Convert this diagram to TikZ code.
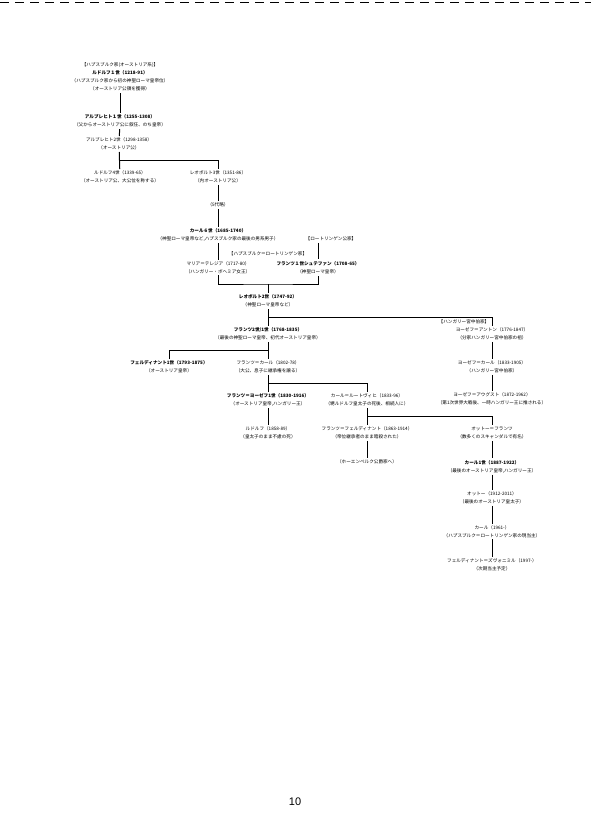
\documentclass[tikz,border=0pt]{standalone}
\usepackage{fontspec}
\newfontfamily\jp{Noto Sans CJK JP}
\newfontfamily\pgnum{Liberation Sans}
\usetikzlibrary{calc}
\tikzset{
  person/.style={align=center, inner sep=1.6pt, font=\jp\fontsize{4.6}{8}\selectfont},
  link/.style={line width=1pt, draw=black},
}
\begin{document}
\begin{tikzpicture}[x=1pt,y=-1pt]
\useasboundingbox (0,0) rectangle (591,835);
\draw[line width=0.9pt, dash pattern=on 9pt off 6pt] (0,2.5) -- (591,2.5);

\node[person] (hab) at (120,65) {【ハプスブルク家(オーストリア系)】};
\node[person] (rud1) at (120,81) {\textbf{ルドルフ１世（1218-91）}\\（ハプスブルク家から初の神聖ローマ皇帝位）\\（オーストリア公領を獲得）};
\node[person] (alb1) at (120,121) {\textbf{アルブレヒト１世（1255-1308）}\\（父からオーストリア公に叙任、のち皇帝）};
\node[person] (alb2) at (119,144) {アルブレヒト2世（1298-1358）\\（オーストリア公）};
\node[person] (rud4) at (120,177) {ルドルフ4世（1339-65）\\（オーストリア公、大公位を称する）};
\node[person] (leo3) at (218,177) {レオポルト3世（1351-86）\\（内オーストリア公）};
\node[person] (skip) at (218,205) {（5代略）};
\node[person] (karl6) at (218,235) {\textbf{カール６世（1685-1740）}\\（神聖ローマ皇帝など,ハプスブルク家の最後の男系男子）};
\node[person] (loth) at (331,239) {【ロートリンゲン公家】};
\node[person] (hl) at (268,254) {【ハプスブルク＝ロートリンゲン家】};
\node[person] (mt) at (218,267.5) {マリア＝テレジア（1717-80）\\（ハンガリー・ボヘミア女王）};
\node[person] (f1) at (318,267.5) {\textbf{フランツ１世シュテファン（1708-65）}\\（神聖ローマ皇帝）};
\node[person] (leo2) at (268,301) {\textbf{レオポルト2世（1747-92）}\\（神聖ローマ皇帝など）};
\node[person] (f2) at (268,334) {\textbf{フランツ2世/1世（1768-1835）}\\（最後の神聖ローマ皇帝、初代オーストリア皇帝）};
\node[person] (fer1) at (169,367) {\textbf{フェルディナント1世（1793-1875）}\\（オーストリア皇帝）};
\node[person] (fk) at (268,367) {フランツ＝カール（1802-78）\\（大公、息子に継承権を譲る）};
\node[person] (fj) at (268,400) {\textbf{フランツ＝ヨーゼフ1世（1830-1916）}\\（オーストリア皇帝,ハンガリー王）};
\node[person] (kl) at (367,400) {カール＝ルートヴィヒ（1833-96）\\（甥ルドルフ皇太子の死後、相続人に）};
\node[person] (rudolf) at (268,433) {ルドルフ（1858-89）\\（皇太子のまま不慮の死）};
\node[person] (ff) at (367,433) {フランツ＝フェルディナント（1863-1914）\\（帝位継承者のまま暗殺された）};
\node[person] (hoh) at (367,462) {（ホーエンベルク公爵家へ）};
\node[person] (hpal) at (464,322) {【ハンガリー宮中伯家】};
\node[person] (ja) at (492,334) {ヨーゼフ＝アントン（1776-1847）\\（分家ハンガリー宮中伯家の祖）};
\node[person] (jk) at (492,367) {ヨーゼフ＝カール（1833-1905）\\（ハンガリー宮中伯家）};
\node[person] (jau) at (492,399) {ヨーゼフ＝アウグスト（1872-1962）\\（第1次世界大戦後、一時ハンガリー王に推される）};
\node[person] (of) at (492,433) {オットー＝フランツ\\（数多くのスキャンダルで有名）};
\node[person] (k1) at (492,466.5) {\textbf{カール1世（1887-1922）}\\（最後のオーストリア皇帝,ハンガリー王）};
\node[person] (ot) at (492,498) {オットー（1912-2011）\\（最後のオーストリア皇太子）};
\node[person] (karl) at (492,531.5) {カール（1961-）\\（ハプスブルク＝ロートリンゲン家の現当主）};
\node[person] (fz) at (492,565) {フェルディナント＝ズヴォニミル（1997-）\\（次期当主予定）};

\node[font=\pgnum\fontsize{11}{13}\selectfont, inner sep=0pt] (pg) at (295,802) {10};

\draw[link] (rud1) -- (alb1);
\draw[link] (alb1) -- (alb2);
\draw[link] (alb2) -- (rud4);
\draw[link] ($(alb2.south)!0.5!(rud4.north)$) -| (leo3.north);
\draw[link] (leo3) -- (skip);
\draw[link] (skip) -- (karl6);
\draw[link] (karl6) -- (mt);
\draw[link] (f1.north |- loth.south) -- (f1.north);
\coordinate (j1) at (268,284);
\draw[link] (mt.south) |- (j1) -| (f1.south);
\draw[link] (j1) -- (leo2.north);
\draw[link] (leo2) -- (f2);
\draw[link] ($(leo2.south)!0.5!(f2.north)$) -| (ja.north);
\draw[link] (f2) -- (fk);
\draw[link] ($(f2.south)!0.5!(fk.north)$) -| (fer1.north);
\draw[link] (fk) -- (fj);
\draw[link] ($(fk.south)!0.5!(fj.north)$) -| (kl.north);
\draw[link] (fj) -- (rudolf);
\draw[link] (kl) -- (ff);
\draw[link] ($(kl.south)!0.5!(ff.north)$) -| (of.north);
\draw[link] (ff) -- (hoh);
\draw[link] (ja) -- (jk);
\draw[link] (jk) -- (jau);
\draw[link] (of) -- (k1);
\draw[link] (k1) -- (ot);
\draw[link] (ot) -- (karl);
\draw[link] (karl) -- (fz);
\end{tikzpicture}
\end{document}
